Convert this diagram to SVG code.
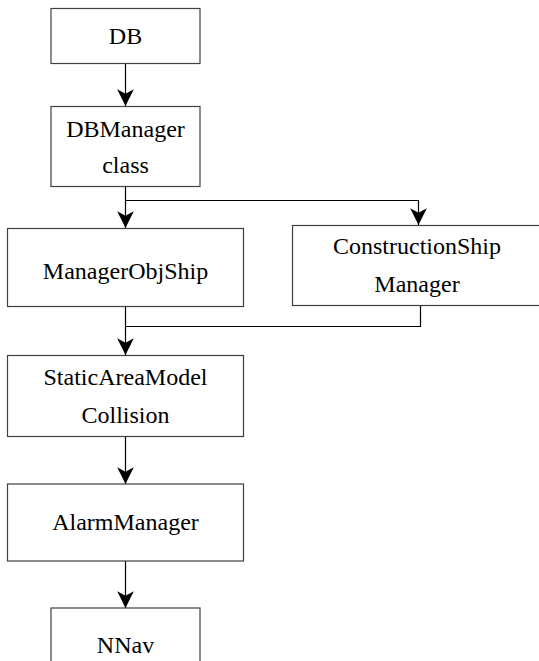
<svg xmlns="http://www.w3.org/2000/svg" width="539" height="661" viewBox="0 0 539 661">
<style>
.box{fill:#fff;stroke:#404040;stroke-width:1.2}
.lbl{font-size:24px;fill:#000;text-anchor:middle}
.con{fill:none;stroke:#000;stroke-width:1.2}
</style>
<defs>
<marker id="ah" markerUnits="userSpaceOnUse" markerWidth="20" markerHeight="20" viewBox="-16 -9 18 18" refX="0" refY="0" orient="auto">
<path d="M0,0 L-15,-7.5 L-11,0 L-15,7.5 Z" fill="#000"/>
</marker>
</defs>
<rect width="539" height="661" fill="#fff"/>
<g id="connectors">
<path class="con" d="M125.5,63.5 V106" marker-end="url(#ah)"/>
<path class="con" d="M125.5,187 V228" marker-end="url(#ah)"/>
<path class="con" d="M125.5,200.5 H418.5 V225" marker-end="url(#ah)"/>
<path class="con" d="M125.5,306.5 V355" marker-end="url(#ah)"/>
<path class="con" d="M420.5,305.5 V326.5 H125.5"/>
<path class="con" d="M125.5,437 V484" marker-end="url(#ah)"/>
<path class="con" d="M125.5,561 V608" marker-end="url(#ah)"/>
</g>
<g font-family="Liberation Serif, Times New Roman, DejaVu Serif, serif">
<g id="db">
<rect class="box" x="51" y="8.5" width="149" height="55"/>
<text class="lbl" x="125.5" y="44">DB</text>
</g>
<g id="dbmanager">
<rect class="box" x="51" y="106.5" width="149" height="80"/>
<text class="lbl" x="125.5" y="136.5">DBManager</text>
<text class="lbl" x="125.5" y="173">class</text>
</g>
<g id="managerobjship">
<rect class="box" x="7.5" y="228.5" width="236" height="78"/>
<text class="lbl" x="125.5" y="279">ManagerObjShip</text>
</g>
<g id="constructionship">
<rect class="box" x="292.5" y="225.5" width="250" height="80"/>
<text class="lbl" x="417" y="254">ConstructionShip</text>
<text class="lbl" x="417" y="291.5">Manager</text>
</g>
<g id="staticarea">
<rect class="box" x="7.5" y="355.5" width="236" height="81"/>
<text class="lbl" x="125.5" y="385">StaticAreaModel</text>
<text class="lbl" x="125.5" y="423">Collision</text>
</g>
<g id="alarm">
<rect class="box" x="7.5" y="484" width="236" height="77"/>
<text class="lbl" x="125.5" y="530">AlarmManager</text>
</g>
<g id="nnav">
<rect class="box" x="51" y="608" width="149" height="60"/>
<text class="lbl" x="125.5" y="653">NNav</text>
</g>
</g>
</svg>
